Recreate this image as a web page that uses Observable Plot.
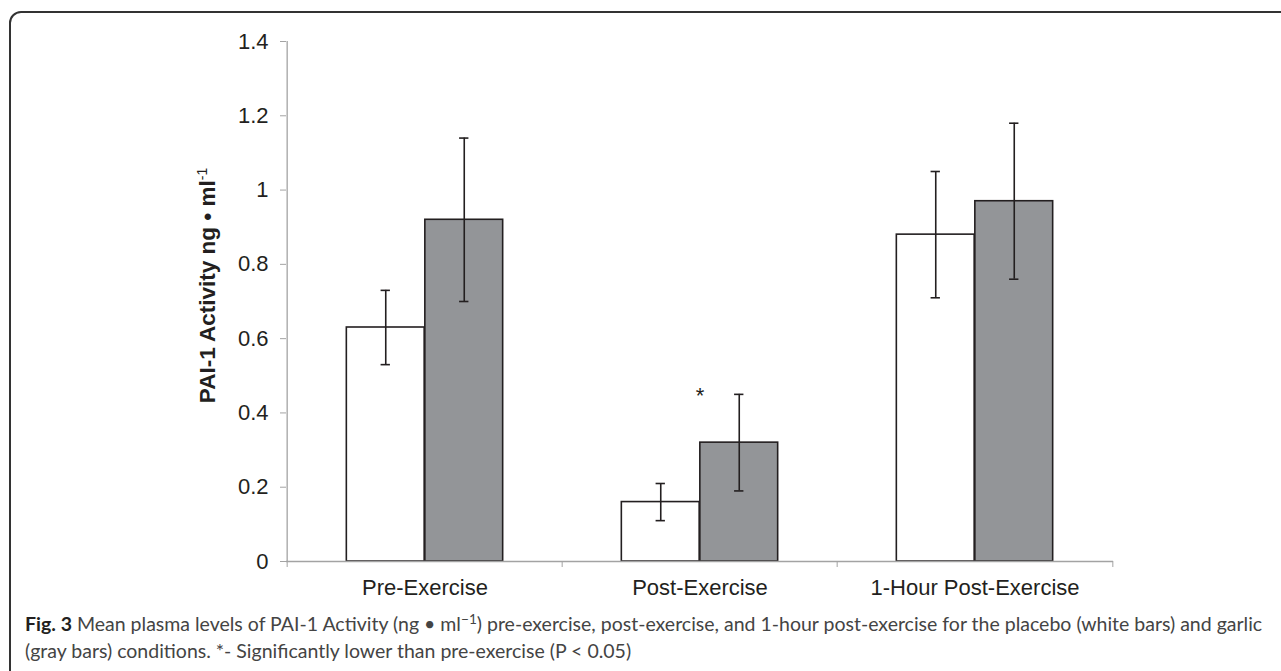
<!DOCTYPE html>
<html>
<head>
<meta charset="utf-8">
<script src="https://cdn.jsdelivr.net/npm/d3@7"></script>
<script src="https://cdn.jsdelivr.net/npm/@observablehq/plot@0.6"></script>
<style>
  html, body { margin: 0; padding: 0; background: #fff; }
  body { width: 1281px; height: 671px; overflow: hidden; position: relative; font-family: "Liberation Sans", Arial, sans-serif; }
  #frame { position: absolute; left: 9px; top: 11px; width: 1400px; height: 700px; border: 2px solid #333; border-radius: 12px; box-sizing: border-box; }
  #chart { position: absolute; left: 0; top: 0; }
  #caption { position: absolute; left: 25px; top: 610px; font-family: "Lato", "Open Sans", sans-serif; font-size: 16px; color: #444; line-height: 27px; white-space: nowrap; }
  #caption b { color: #231f20; }
  #caption sup { font-size: 0.7em; line-height: 0; }
</style>
</head>
<body>
<div id="frame"></div>
<div id="chart"></div>
<div id="caption">
  <div id="cap1"><b>Fig. 3</b> Mean plasma levels of PAI-1 Activity (ng • ml<sup>−1</sup>) pre-exercise, post-exercise, and 1-hour post-exercise for the placebo (white bars) and garlic</div>
  <div id="cap2">(gray bars) conditions. *- Significantly lower than pre-exercise (P &lt; 0.05)</div>
</div>
<script>
// ---- data ----
const categories = ["Pre-Exercise", "Post-Exercise", "1-Hour Post-Exercise"];
const series = ["Placebo", "Garlic"];
const placeboMean = [0.63, 0.16, 0.88];
const placeboErr  = [0.10, 0.05, 0.17];
const garlicMean  = [0.92, 0.32, 0.97];
const garlicErr   = [0.22, 0.13, 0.21];
const yTicks      = [0, 0.2, 0.4, 0.6, 0.8, 1, 1.2, 1.4];
const yTickLabels = ["0", "0.2", "0.4", "0.6", "0.8", "1", "1.2", "1.4"];
const yLabel = "PAI-1 Activity ng • ml";
const yLabelSup = "-1";
const annotations = [{category: "Post-Exercise", value: 0.45, label: "*"}];

// ---- table ----
const makeRows = (s, means, errs) => categories.map((c, i) => ({
  category: c, series: s, mean: means[i], lo: means[i] - errs[i], hi: means[i] + errs[i]
}));
const placebo = makeRows(series[0], placeboMean, placeboErr);
const garlic  = makeRows(series[1], garlicMean, garlicErr);

// ---- layout ----
const W = 1281, H = 610, ML = 286, MR = 168, MT = 41, MB = 49;
const band = (W - ML - MR) / categories.length;
const bw = 78.5;                       // bar width
const gOff = (band - 2 * bw) / 2;      // gap before group
const cap = 10;                        // error cap width
const ink = "#231f20", axisGray = "#a3a3a3", barGray = "#939598";
const FS = 22;

const chart = Plot.plot({
  width: W, height: H,
  marginLeft: ML, marginRight: MR, marginTop: MT, marginBottom: MB,
  style: { fontFamily: "Liberation Sans, Arial, sans-serif", fontSize: FS + "px", background: "transparent", color: ink },
  x: { type: "band", domain: categories, padding: 0 },
  y: { domain: [yTicks[0], yTicks[yTicks.length - 1]] },
  marks: [
    Plot.barY(placebo, { x: "category", y: "mean", fill: "white", stroke: ink, strokeWidth: 1.6,
      insetLeft: gOff, insetRight: band - gOff - bw }),
    Plot.barY(garlic, { x: "category", y: "mean", fill: barGray, stroke: ink, strokeWidth: 1.6,
      insetLeft: gOff + bw, insetRight: gOff }),
    Plot.ruleX(placebo, { x: "category", y1: "lo", y2: "hi", dx: -bw / 2, stroke: ink, strokeWidth: 1.6 }),
    Plot.ruleX(garlic,  { x: "category", y1: "lo", y2: "hi", dx:  bw / 2, stroke: ink, strokeWidth: 1.6 }),
    ...["lo", "hi"].map(k => Plot.tickY(placebo, { x: "category", y: k, stroke: ink, strokeWidth: 1.6,
      insetLeft: band / 2 - bw / 2 - cap / 2, insetRight: band / 2 + bw / 2 - cap / 2 })),
    ...["lo", "hi"].map(k => Plot.tickY(garlic, { x: "category", y: k, stroke: ink, strokeWidth: 1.6,
      insetLeft: band / 2 + bw / 2 - cap / 2, insetRight: band / 2 - bw / 2 - cap / 2 })),
    // axis lines
    Plot.ruleY([yTicks[0]], { stroke: axisGray, strokeWidth: 1.3 }),
    Plot.ruleX([{ c: categories[0], y1: yTicks[0], y2: yTicks[yTicks.length - 1] }],
      { x: "c", y1: "y1", y2: "y2", dx: -band / 2, stroke: axisGray, strokeWidth: 1.3 }),
    // y axis
    Plot.axisY({ ticks: yTicks, tickFormat: d => yTickLabels[yTicks.indexOf(d)], tickSize: 6, tickPadding: 12,
      stroke: axisGray, fill: ink, label: null, fontSize: FS }),
    // x axis boundary ticks
    Plot.axisX({ tickSize: 6, fill: "none", stroke: axisGray, dx: -band / 2, label: null }),
    Plot.axisX({ ticks: [categories[categories.length - 1]], tickSize: 6, fill: "none", stroke: axisGray, dx: band / 2, label: null }),
    // x category labels
    Plot.axisX({ tickSize: 0, tickPadding: 18, fill: ink, label: null, fontSize: FS }),
    // y axis title
    Plot.text([yLabel], { frameAnchor: "left", text: d => d, rotate: -90, dx: -79, dy: -16, textAnchor: "middle",
      fontWeight: "bold", fontSize: 22.5, fill: ink }),
    // significance marker
    Plot.text(annotations, { x: "category", y: "value", text: "label", dy: 2, fontSize: FS, fill: ink })
  ]
});
document.getElementById("chart").appendChild(chart);

// superscript on the y axis title
chart.querySelectorAll("text").forEach(t => {
  if (t.textContent === yLabel) {
    const ts = document.createElementNS("http://www.w3.org/2000/svg", "tspan");
    ts.setAttribute("baseline-shift", "super");
    ts.setAttribute("font-size", "14");
    ts.setAttribute("font-weight", "normal");
    ts.textContent = yLabelSup;
    t.appendChild(ts);
  }
});

// fit caption line 1 to its width in the reference
const c1 = document.getElementById("cap1");
const target = 1237;
const w = c1.getBoundingClientRect().width;
const fs = 16 * target / w;
document.getElementById("caption").style.fontSize = fs.toFixed(2) + "px";
</script>
</body>
</html>
